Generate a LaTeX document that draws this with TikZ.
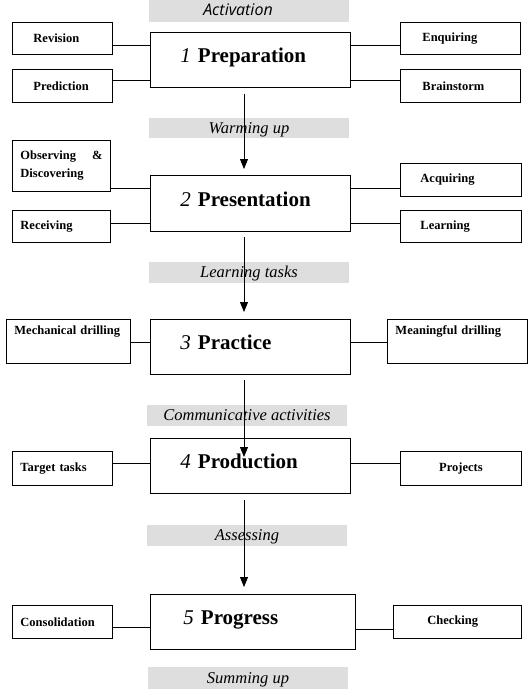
\documentclass[tikz,border=0pt]{standalone}
\usepackage{fontspec}
\setmainfont{Liberation Serif}
\newfontfamily\sansfam{Open Sans}
\usetikzlibrary{arrows.meta}
\begin{document}
\begin{tikzpicture}[x=1pt,y=-1pt,line width=0.9pt,
  sidebox/.style={draw,anchor=north west,align=left,inner ysep=2pt,font=\bfseries\fontsize{12.5}{18}\selectfont},
  mainbox/.style={draw,anchor=north west,align=left,inner xsep=30pt,text width=140pt,minimum height=55pt,text depth=9pt,font=\fontsize{21}{24}\selectfont},
  band/.style={fill=black!13,minimum width=200pt,inner sep=0pt,text height=13pt,text depth=3pt,font=\itshape\fontsize{16.5}{18}\selectfont},
  arr/.style={line width=0.8pt,-{Triangle[width=8pt,length=10pt]}},
  link/.style={line width=0.9pt}]
\useasboundingbox (0,0) rectangle (530,696);

% bands
\node[band,minimum height=22pt,text height=12pt,text depth=4pt] (act) at (249,11) {\sansfam\itshape\fontsize{16}{18}\selectfont\hspace*{-22pt}Activation};
\node[band,minimum height=20pt] (warm) at (249,128) {Warming up};
\node[band,minimum height=21pt] (ltasks) at (249,272.5) {Learning tasks};
\node[band,minimum height=21pt] (comm) at (247,415.5) {Communicative activities};
\node[band,minimum height=21pt] (assess) at (247,535.5) {Assessing};
\node[band,minimum height=22pt] (sumup) at (248,678) {Summing up};

% main boxes
\node[mainbox] (prep) at (150,32) {{\itshape 1} \textbf{Preparation}};
\node[mainbox,minimum height=56pt] (pres) at (150,175) {{\itshape 2} \textbf{Presentation}};
\node[mainbox] (prac) at (150,319) {{\itshape 3} \textbf{Practice}};
\node[mainbox] (prod) at (150,438) {{\itshape 4} \textbf{Production}};
\node[mainbox,inner xsep=33pt,text width=139pt] (prog) at (150,594) {{\itshape 5} \textbf{Progress}};

% side boxes
\node[sidebox,inner xsep=21pt,text width=58pt,minimum height=32pt] (rev) at (12,22) {Revision};
\node[sidebox,inner xsep=21pt,text width=58pt,minimum height=33pt] (pred) at (12,69) {Prediction};
\node[sidebox,inner xsep=22pt,text width=76pt,minimum height=32pt] (enq) at (400,22) {Enquiring};
\node[sidebox,inner xsep=22pt,text width=76pt,minimum height=33pt] (brain) at (400,69) {Brainstorm};
\node[sidebox,inner xsep=8pt,text width=82pt,minimum height=51pt] (obs) at (12,140) {Observing\hfill\&\\Discovering};
\node[sidebox,inner xsep=8pt,text width=82pt,minimum height=32pt] (rec) at (12,210) {Receiving};
\node[sidebox,inner xsep=20pt,text width=81pt,minimum height=33pt] (acq) at (400,163) {Acquiring};
\node[sidebox,inner xsep=20pt,text width=81pt,minimum height=32pt] (learn) at (400,210) {Learning};
\node[sidebox,inner xsep=8pt,text width=108pt,minimum height=44pt,text depth=23pt] (mech) at (6,319) {Mechanical drilling};
\node[sidebox,inner xsep=8pt,text width=124pt,minimum height=44pt,text depth=23pt] (mean) at (387,319) {Meaningful drilling};
\node[sidebox,inner xsep=8pt,text width=84pt,minimum height=34pt] (targ) at (12,451) {Target tasks};
\node[sidebox,align=center,inner xsep=4pt,text width=113pt,minimum height=34pt] (proj) at (400,451) {Projects};
\node[sidebox,inner xsep=8pt,text width=84pt,minimum height=33pt] (cons) at (12,605) {Consolidation};
\node[sidebox,inner xsep=34pt,text width=60pt,minimum height=33pt] (check) at (393,605) {Checking};

% links
\draw[link] ([yshift=-7pt]rev.east) -- ([yshift=-7pt]rev.east -| prep.west);
\draw[link] ([yshift=5.5pt]pred.east) -- ([yshift=5.5pt]pred.east -| prep.west);
\draw[link] ([yshift=-7pt]enq.west -| prep.east) -- ([yshift=-7pt]enq.west);
\draw[link] ([yshift=5.5pt]brain.west -| prep.east) -- ([yshift=5.5pt]brain.west);

\draw[link] ([yshift=-22.5pt]obs.east) -- ([yshift=-22.5pt]obs.east -| pres.west);
\draw[link] ([yshift=3pt]rec.east) -- ([yshift=3pt]rec.east -| pres.west);
\draw[link] ([yshift=-8.5pt]acq.west -| pres.east) -- ([yshift=-8.5pt]acq.west);
\draw[link] ([yshift=3pt]learn.west -| pres.east) -- ([yshift=3pt]learn.west);

\draw[link] ([yshift=-1pt]mech.east) -- ([yshift=-1pt]mech.east -| prac.west);
\draw[link] ([yshift=-1pt]mean.west -| prac.east) -- ([yshift=-1pt]mean.west);

\draw[link] ([yshift=5pt]targ.east) -- ([yshift=5pt]targ.east -| prod.west);
\draw[link] ([yshift=5pt]proj.west -| prod.east) -- ([yshift=5pt]proj.west);

\draw[link] ([yshift=-5.5pt]cons.east) -- ([yshift=-5.5pt]cons.east -| prog.west);
\draw[link] ([yshift=-7.5pt]check.west -| prog.east) -- ([yshift=-7.5pt]check.west);

% arrows
\coordinate (ax) at (244,0);
\draw[arr,shorten <=6pt,shorten >=6pt] (prep.south -| ax) -- (pres.north -| ax);
\draw[arr,shorten <=5pt,shorten >=7pt] (pres.south -| ax) -- (prac.north -| ax);
\draw[arr,shorten <=5pt,shorten >=-19pt] (prac.south -| ax) -- (prod.north -| ax);
\draw[arr,shorten <=6pt,shorten >=7pt] (prod.south -| ax) -- (prog.north -| ax);
\end{tikzpicture}
\end{document}
